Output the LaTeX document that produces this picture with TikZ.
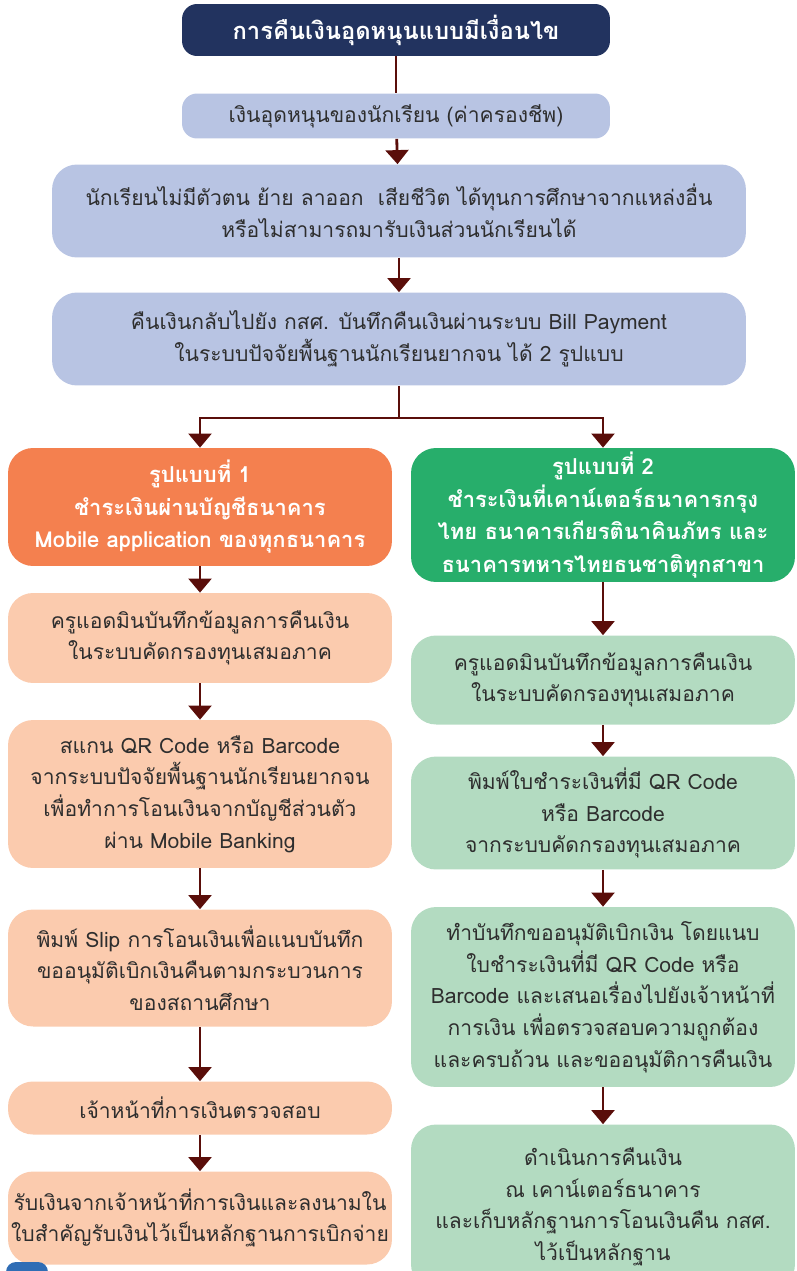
\documentclass[tikz,border=0pt]{standalone}
\usepackage{fontspec}
\newfontfamily\thai[Script=Thai]{Loma}
\usepackage{tikz}
\usetikzlibrary{arrows.meta}
\usetikzlibrary{positioning}
\definecolor{navy}{HTML}{22335F}
\definecolor{peri}{HTML}{B8C4E3}
\definecolor{orng}{HTML}{F4804F}
\definecolor{grn}{HTML}{27AE6B}
\definecolor{pch}{HTML}{FBCBAE}
\definecolor{mint}{HTML}{B3DBC1}
\definecolor{brn}{HTML}{5A0E0A}
\definecolor{txt}{HTML}{2E2E2E}
\definecolor{blu}{HTML}{2F6DB5}

\begin{document}
\begin{tikzpicture}[x=0.02cm, y=-0.02cm, box/.style={rounded corners=0.5cm,align=center,
		inner sep=0pt,text=txt,font=\thai\fontsize{12}{18}\selectfont}, head/.style={box,text=white,
		font=\thai\bfseries\fontsize{12.5}{18.5}\selectfont}, wide/.style={minimum width=13.88cm},
	col/.style={minimum width=7.68cm}, ln/.style={draw=brn,line width=1.6pt},
	arr/.style={ln,-{Triangle[width=13pt,length=8pt]}}]
	\clip (0,0) rectangle (797,1271);
	\node[head,fill=navy,rounded corners=0.3cm,minimum width=8.56cm,minimum height=1.04cm,
		font=\thai\bfseries\fontsize{13.5}{18}\selectfont] (0) at (396,30) {การคืนเงินอุดหนุนแบบมีเงื่อนไข};
	\node[box,fill=peri,rounded corners=0.3cm,minimum width=8.56cm,minimum height=0.9cm] (1) at (396,116) {เงินอุดหนุนของนักเรียน (ค่าครองชีพ)};
	\node[box,fill=peri,wide,minimum height=1.86cm] (2) at (399,211) {นักเรียนไม่มีตัวตน ย้าย ลาออก\ \ เสียชีวิต ได้ทุนการศึกษาจากแหล่งอื่น\\หรือไม่สามารถมารับเงินส่วนนักเรียนได้};
	\node[box,fill=peri,wide,minimum height=1.86cm] (3) at (399,339) {คืนเงินกลับไปยัง กสศ. บันทึกคืนเงินผ่านระบบ Bill Payment\\ในระบบปัจจัยพื้นฐานนักเรียนยากจน ได้ 2 รูปแบบ};
	\coordinate (f) at (399,418);
	% left column
	\node[head,fill=orng,col,minimum height=2.36cm] (4) at (200,507) {รูปแบบที่ 1\\ชำระเงินผ่านบัญชีธนาคาร\\Mobile application ของทุกธนาคาร};
	\node[box,fill=pch,col,minimum height=1.8cm] (5) at (200,638) {ครูแอดมินบันทึกข้อมูลการคืนเงิน\\ในระบบคัดกรองทุนเสมอภาค};
	\node[box,fill=pch,col,minimum height=2.96cm] (6) at (200,794) {สแกน QR Code หรือ Barcode\\จากระบบปัจจัยพื้นฐานนักเรียนยากจน\\เพื่อทำการโอนเงินจากบัญชีส่วนตัว\\ผ่าน Mobile Banking};
	\node[box,fill=pch,col,minimum height=2.34cm] (7) at (200,968) {พิมพ์ Slip การโอนเงินเพื่อแนบบันทึก\\ขออนุมัติเบิกเงินคืนตามกระบวนการ\\ของสถานศึกษา};
	\node[box,fill=pch,col,minimum height=1.06cm] (8) at (200,1108) {เจ้าหน้าที่การเงินตรวจสอบ};
	\node[box,fill=pch,col,minimum height=1.86cm] (9) at (200,1218) {รับเงินจากเจ้าหน้าที่การเงินและลงนามใน\\ใบสำคัญรับเงินไว้เป็นหลักฐานการเบิกจ่าย};
	% right column
	\node[head,fill=grn,col,minimum height=2.68cm] (10) at (603,515) {รูปแบบที่ 2\\ชำระเงินที่เคาน์เตอร์ธนาคารกรุง\\ไทย ธนาคารเกียรตินาคินภัทร และ\\ธนาคารทหารไทยธนชาติทุกสาขา};
	\node[box,fill=mint,col,minimum height=1.78cm] (11) at (603,680) {ครูแอดมินบันทึกข้อมูลการคืนเงิน\\ในระบบคัดกรองทุนเสมอภาค};
	\node[box,fill=mint,col,minimum height=2.26cm] (12) at (603,813) {พิมพ์ใบชำระเงินที่มี QR Code\\หรือ Barcode\\จากระบบคัดกรองทุนเสมอภาค};
	\node[box,fill=mint,col,minimum height=3.6cm] (13) at (603,997) {ทำบันทึกขออนุมัติเบิกเงิน โดยแนบ\\ใบชำระเงินที่มี QR Code หรือ\\Barcode และเสนอเรื่องไปยังเจ้าหน้าที่\\การเงิน เพื่อตรวจสอบความถูกต้อง\\และครบถ้วน และขออนุมัติการคืนเงิน};
	\node[box,fill=mint,col,minimum height=3.3cm] (14) at (603,1207) {ดำเนินการคืนเงิน\\ณ เคาน์เตอร์ธนาคาร\\และเก็บหลักฐานการโอนเงินคืน กสศ.\\ไว้เป็นหลักฐาน};
	\fill[blu,rounded corners=0.2cm] (6,1262) rectangle (48,1290);
	\draw[ln] (0) to (1);
	\draw[arr] (1) to (2);
	\draw[arr] (2) to (3);
	\draw[ln] (3) to (f);
	\draw[arr] (f) -| (4);
	\draw[arr] (f) -| (10);
	\draw[arr] (4) to (5);
	\draw[arr] (5) to (6);
	\draw[arr] (6) to (7);
	\draw[arr] (7) to (8);
	\draw[arr] (8) to (9);
	\draw[arr] (10) to (11);
	\draw[arr] (11) to (12);
	\draw[arr] (12) to (13);
	\draw[arr] (13) to (14);
\end{tikzpicture}
\end{document}
